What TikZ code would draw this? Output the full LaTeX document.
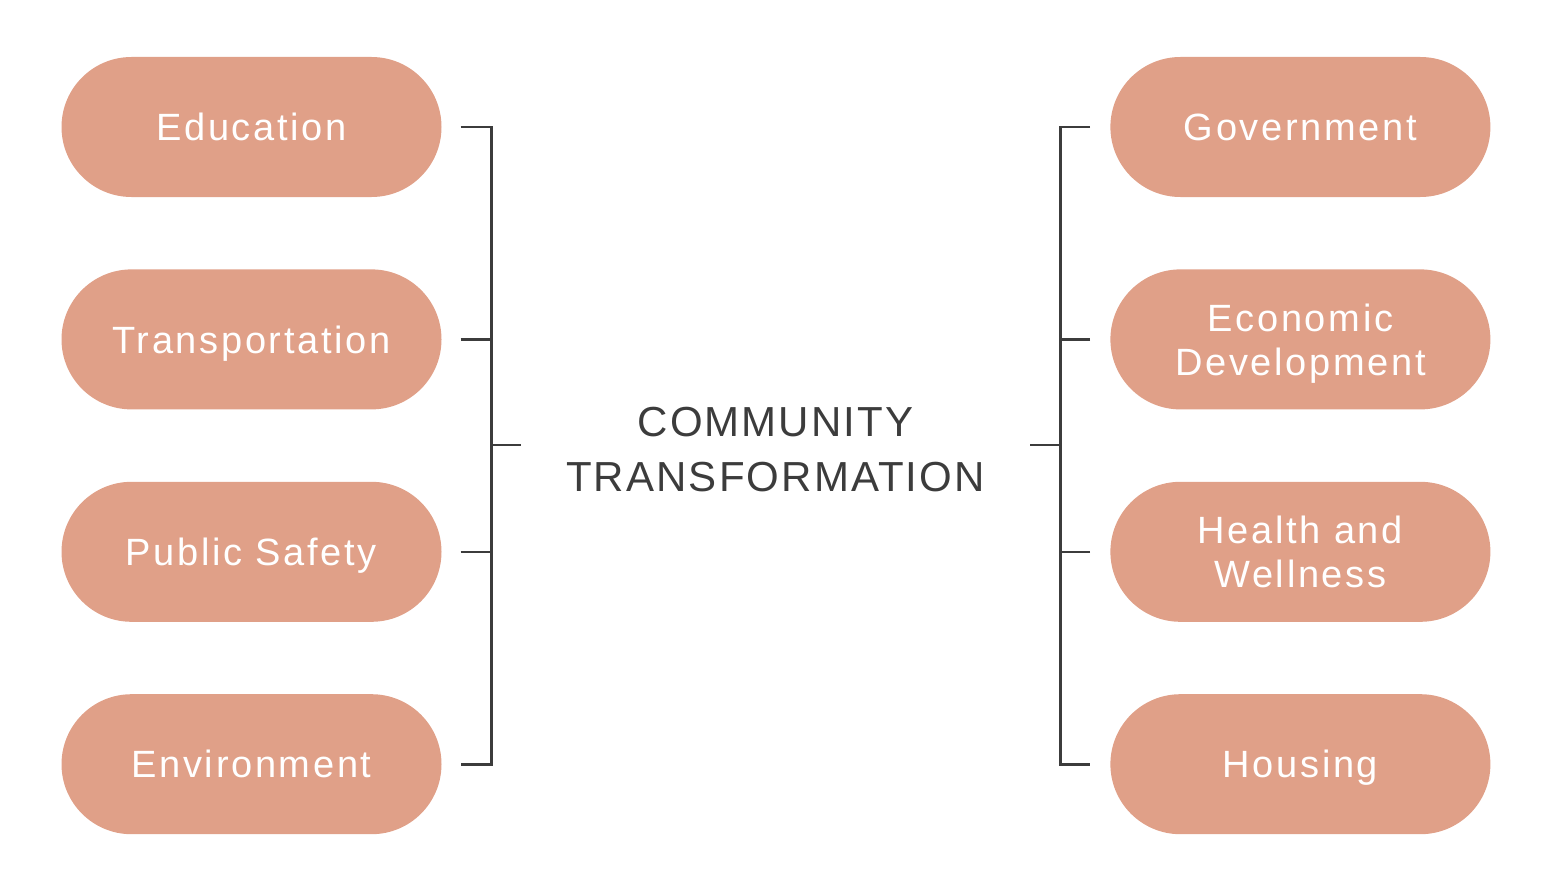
\documentclass[tikz,border=0pt]{standalone}
\usepackage{fontspec}
\setmainfont{Liberation Sans}
\newfontfamily\pillfont[LetterSpace=7]{Liberation Sans}
\newfontfamily\hubfont[LetterSpace=5]{Liberation Sans}
\usetikzlibrary{positioning}
\definecolor{salmon}{HTML}{E0A088}
\definecolor{ink}{HTML}{3C3C3C}
\begin{document}
\begin{tikzpicture}[x=1pt,y=-1pt,node distance=72pt and 668.5pt,pill/.style={fill=salmon,rounded corners=70pt,minimum width=380pt,minimum height=140pt,inner sep=0pt,align=center,text depth=0pt,text=white,font=\pillfont\fontsize{38}{44}\selectfont},hub/.style={minimum width=509pt,inner sep=0pt,align=center,text=ink,font=\hubfont\fontsize{42}{55}\selectfont},link/.style={draw=ink,line width=2.6pt}]
\useasboundingbox (0,0) rectangle (1552,888);
\node[pill](edu) at (251.5,127){Education};
\node[pill,below=of edu](tra){Transportation};
\node[pill,below=of tra](saf){Public Safety};
\node[pill,below=of saf](env){Environment};
\node[pill,right=of edu](gov){Government};
\node[pill,right=of tra](eco){Economic\\Development};
\node[pill,right=of saf](hea){Health and\\Wellness};
\node[pill,right=of env](hou){Housing};
\node[hub](ct) at (775.5,450){COMMUNITY\\TRANSFORMATION};
% left bracket
\draw[link]([xshift=19pt]edu.east)-|([xshift=49.5pt]env.east)--([xshift=19pt]env.east);
\draw[link]([xshift=19pt]tra.east)--++(30,0);\draw[link]([xshift=19pt]saf.east)--++(30,0);
\draw[link]([yshift=5pt]ct.west)--++(-30,0);
% right bracket
\draw[link]([xshift=-20pt]gov.west)-|([xshift=-50pt]hou.west)--([xshift=-20pt]hou.west);
\draw[link]([xshift=-20pt]eco.west)--++(-30,0);\draw[link]([xshift=-20pt]hea.west)--++(-30,0);
\draw[link]([yshift=5pt]ct.east)--++(30,0);
\end{tikzpicture}
\end{document}
